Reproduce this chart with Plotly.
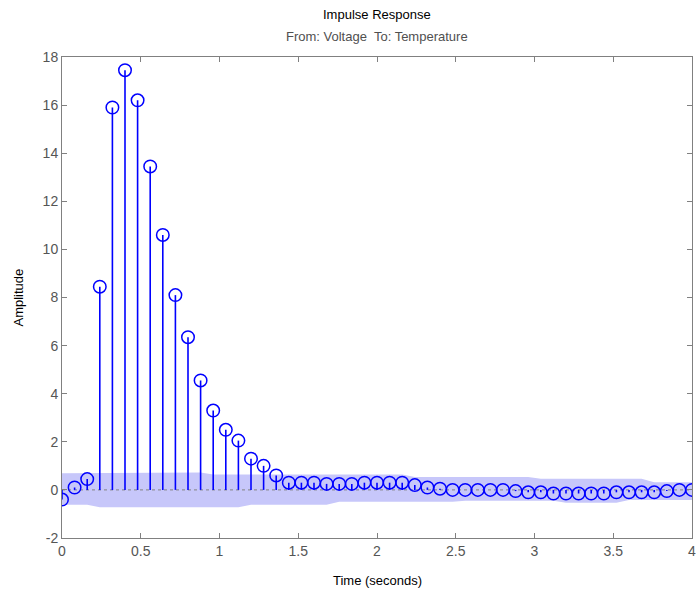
import plotly.graph_objects as go

# ---- data ----
time_s = [round(0.08 * i, 2) for i in range(51)]
amplitude = [
    -0.40, 0.10, 0.45, 8.45, 15.90, 17.45, 16.20, 13.45, 10.60, 8.10,
    6.35, 4.55, 3.30, 2.50, 2.05, 1.30, 1.00, 0.60, 0.30, 0.30,
    0.30, 0.25, 0.25, 0.25, 0.30, 0.30, 0.30, 0.30, 0.20, 0.10,
    0.05, 0.00, 0.00, 0.00, 0.00, 0.00, -0.05, -0.10, -0.10, -0.15,
    -0.15, -0.15, -0.15, -0.15, -0.10, -0.10, -0.10, -0.10, -0.05, 0.00,
    0.00,
]
conf_upper = [
    0.69, 0.69, 0.69, 0.72, 0.72, 0.72, 0.72, 0.72, 0.72, 0.72,
    0.72, 0.72, 0.64, 0.64, 0.64, 0.64, 0.64, 0.64, 0.64, 0.64,
    0.64, 0.64, 0.64, 0.64, 0.64, 0.64, 0.64, 0.64, 0.54, 0.54,
    0.54, 0.54, 0.54, 0.54, 0.54, 0.54, 0.54, 0.54, 0.46, 0.46,
    0.46, 0.46, 0.46, 0.46, 0.46, 0.46, 0.46, 0.32, 0.32, 0.32,
    0.32,
]
conf_lower = [
    -0.62, -0.62, -0.62, -0.72, -0.72, -0.72, -0.72, -0.72, -0.72, -0.72,
    -0.72, -0.72, -0.72, -0.72, -0.72, -0.62, -0.62, -0.62, -0.62, -0.62,
    -0.62, -0.62, -0.49, -0.49, -0.49, -0.49, -0.49, -0.49, -0.49, -0.49,
    -0.49, -0.49, -0.45, -0.45, -0.45, -0.45, -0.45, -0.45, -0.45, -0.45,
    -0.53, -0.53, -0.53, -0.53, -0.53, -0.42, -0.42, -0.42, -0.42, -0.42,
    -0.42,
]
x_ticks = [0, 0.5, 1, 1.5, 2, 2.5, 3, 3.5, 4]
x_tick_labels = ["0", "0.5", "1", "1.5", "2", "2.5", "3", "3.5", "4"]
y_ticks = [-2, 0, 2, 4, 6, 8, 10, 12, 14, 16, 18]
y_tick_labels = ["-2", "0", "2", "4", "6", "8", "10", "12", "14", "16", "18"]

BLUE = "rgb(0,0,255)"
FONT = "Liberation Sans, Arial, sans-serif"

fig = go.Figure()

# confidence region
fig.add_trace(go.Scatter(
    x=time_s + time_s[::-1],
    y=conf_upper + conf_lower[::-1],
    fill="toself", fillcolor="rgb(199,199,250)",
    line=dict(width=0), mode="lines", hoverinfo="skip", showlegend=False,
))

# zero reference line
fig.add_trace(go.Scatter(
    x=[time_s[0], time_s[-1]], y=[0, 0], mode="lines",
    line=dict(color="rgb(130,130,130)", width=1, dash="dot"),
    hoverinfo="skip", showlegend=False,
))

# stems
sx, sy = [], []
for t, a in zip(time_s, amplitude):
    sx += [t, t, None]
    sy += [0, a, None]
fig.add_trace(go.Scatter(
    x=sx, y=sy, mode="lines", line=dict(color=BLUE, width=1.6),
    hoverinfo="skip", showlegend=False,
))

# markers
fig.add_trace(go.Scatter(
    x=time_s, y=amplitude, mode="markers",
    marker=dict(symbol="circle-open", size=12.5, color=BLUE, line=dict(width=1.5, color=BLUE)),
    showlegend=False,
))

axis_common = dict(
    showgrid=False, zeroline=False, showline=True, linecolor="rgb(128,128,128)",
    linewidth=1, mirror="ticks", ticks="inside", ticklen=5,
    tickcolor="rgb(128,128,128)", ticklabeloverflow="allow",
    tickfont=dict(family=FONT, size=14, color="rgb(85,85,85)"),
)

fig.update_layout(
    width=696, height=592,
    margin=dict(l=62, r=0, t=57, b=54),
    paper_bgcolor="white", plot_bgcolor="white",
    font=dict(family=FONT),
    xaxis=dict(range=[0, 4], tickvals=x_ticks, ticktext=x_tick_labels, **axis_common),
    yaxis=dict(range=[-2, 18], tickvals=y_ticks, ticktext=y_tick_labels, **axis_common),
    annotations=[
        dict(text="Impulse Response", x=0.5, y=1, xref="paper", yref="paper",
             yanchor="middle", yshift=43, showarrow=False,
             font=dict(family=FONT, size=13, color="black")),
        dict(text="From: Voltage  To: Temperature", x=0.5, y=1, xref="paper", yref="paper",
             yanchor="middle", yshift=21, showarrow=False,
             font=dict(family=FONT, size=13, color="rgb(80,80,80)")),
        dict(text="Time (seconds)", x=0.5, y=0, xref="paper", yref="paper",
             yanchor="middle", yshift=-42, showarrow=False,
             font=dict(family=FONT, size=13, color="black")),
        dict(text="Amplitude", x=0, y=0.5, xref="paper", yref="paper",
             xanchor="center", xshift=-44, textangle=-90, showarrow=False,
             font=dict(family=FONT, size=13, color="black")),
    ],
)

fig.write_html(
    "out.html",
    config={"displayModeBar": False},
    post_script="document.body.style.margin='0';document.body.style.padding='0';",
)
